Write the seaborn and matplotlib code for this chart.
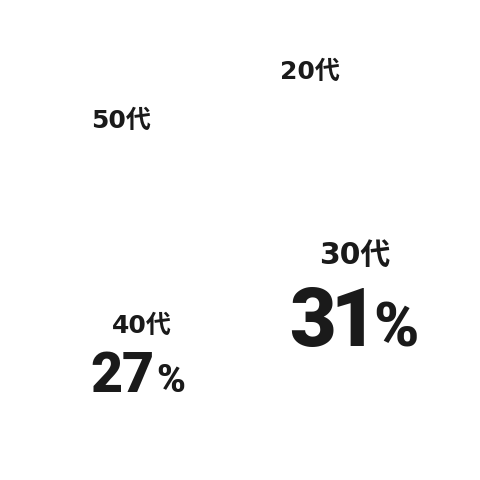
import numpy as np
import matplotlib.pyplot as plt
import seaborn as sns

# data
ages = ["20代", "30代", "40代", "50代"]
shares = [16, 31, 27, 26]
show_pct = [False, True, True, False]

# label placement (radius in pie units, small angle nudge in degrees)
label_radius = [0.91, 0.646, 0.755, 0.841]
angle_nudge = [-6.2, 1.8, 3.2, 1.9]
name_size = [18, 21.5, 18, 18]
num_size = [0, 58, 40, 0]
pct_size = [0, 44, 28, 0]
# pixel offsets: name (dx, dy), number right edge dx, baseline dy, % left dx, tracking
offs = {
    "30代": dict(name=(-2, 40), num_dx=20, base=-51, pct_dx=16, track=-5),
    "40代": dict(name=(1, 28), num_dx=13, base=-38, pct_dx=15, track=-1),
}

sns.set_theme(style="white")
plt.rcParams['font.family'] = ['DejaVu Sans', 'Noto Sans CJK JP']
num_font = ['Roboto', 'DejaVu Sans']
ink = "#1a1a1a"

fig = plt.figure(figsize=(4.8, 4.8), dpi=100)
ax = fig.add_axes([0, 0, 1, 1])
wedges, _ = ax.pie(shares, colors=["white"] * len(shares), startangle=90,
                   counterclock=False, radius=1, wedgeprops=dict(linewidth=0))
ax.set_xlim(-1.2, 1.2)
ax.set_ylim(-1.2, 1.2)
ax.set_aspect("equal")
ax.axis("off")
renderer = fig.canvas.get_renderer()

for i, w in enumerate(wedges):
    mid = np.deg2rad((w.theta1 + w.theta2) / 2 - angle_nudge[i])
    x, y = label_radius[i] * np.cos(mid), label_radius[i] * np.sin(mid)
    if not show_pct[i]:
        ax.text(x, y, ages[i], ha="center", va="center", fontsize=name_size[i],
                fontweight="bold", color=ink)
        continue
    o = offs[ages[i]]
    ax.annotate(ages[i], (x, y), xytext=o["name"], textcoords="offset pixels",
                ha="center", va="center", fontsize=name_size[i],
                fontweight="bold", color=ink)
    # big number, drawn digit by digit for tighter spacing
    cur = o["num_dx"]
    for ch in reversed(f"{shares[i]}"):
        t = ax.annotate(ch, (x, y), xytext=(cur, o["base"]),
                        textcoords="offset pixels", ha="right", va="baseline",
                        fontsize=num_size[i], fontweight="black", color=ink,
                        family=num_font)
        cur -= t.get_window_extent(renderer).width + o["track"]
    ax.annotate("%", (x, y), xytext=(o["pct_dx"], o["base"]),
                textcoords="offset pixels", ha="left", va="baseline",
                fontsize=pct_size[i], fontweight="black", color=ink,
                family=num_font)

plt.savefig("out.png", dpi=100, facecolor="white")
